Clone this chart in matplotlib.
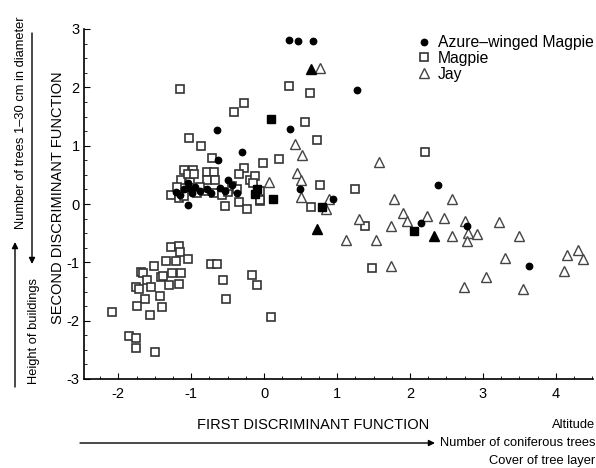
import matplotlib
matplotlib.use("Agg")
import matplotlib.pyplot as plt
from matplotlib.ticker import MultipleLocator

plt.rcParams['font.family'] = ['Liberation Sans', 'DejaVu Sans']

# Azure-winged Magpie (filled circles)
azure_x = [0.34, 0.46, 0.67, -0.65, 0.36, -0.30, -0.63, 0.49, -1.04, 0.94, 1.27, 2.38, 2.15, 2.78, 3.63,
           -1.21, -1.10, -1.03, -0.99, -1.05, -0.78, -0.73, -0.60, -0.49, -0.44, -0.53, -0.37, -1.15, -0.88, -0.95]
azure_y = [2.81, 2.80, 2.80, 1.27, 1.29, 0.90, 0.75, 0.26, -0.02, 0.09, 1.96, 0.32, -0.32, -0.37, -1.06,
           0.20, 0.25, 0.28, 0.19, 0.36, 0.25, 0.19, 0.28, 0.42, 0.33, 0.22, 0.19, 0.15, 0.22, 0.30]

# Magpie (open squares)
magpie_x = [-1.15, 0.34, 0.63, -0.28, -0.41, 0.56, -1.03, -0.87, 0.72, -0.72, -0.01, 0.21, -0.27, -0.34, 0.76,
            -0.53, -0.35, -0.24, -0.05, 0.64, 2.20, 1.25, 1.38, 1.48,
            -1.10, -0.98, -1.14, -1.01, -1.05, -0.96, -0.78, -0.69, -0.78, -0.67, -1.28, -1.17, -1.10, -0.92,
            -0.83, -0.69, -0.58, -0.49, -0.44, -0.37, -0.19, -0.12, -0.15, -0.05, -0.06, -1.20, -0.88,
            -1.28, -1.17, -1.16, -1.34, -1.21, -1.04, -1.51, -1.69, -1.66, -1.26, -1.14, -1.41, -1.38, -1.61,
            -1.30, -1.17, -1.76, -1.72, -1.55, -1.64, -1.43, -1.74, -1.40, -1.56, -2.08, -1.85, -1.76, -1.76,
            -1.50, -0.73, -0.65, -0.56, -0.52, -0.16, -0.10, 0.10]
magpie_y = [1.98, 2.02, 1.91, 1.73, 1.58, 1.40, 1.14, 0.99, 1.10, 0.79, 0.71, 0.77, 0.61, 0.51, 0.33,
            -0.03, 0.04, -0.09, 0.05, -0.05, 0.89, 0.26, -0.37, -1.10,
            0.58, 0.59, 0.42, 0.42, 0.51, 0.51, 0.55, 0.55, 0.42, 0.42, 0.16, 0.11, 0.13, 0.19,
            0.22, 0.19, 0.16, 0.20, 0.31, 0.25, 0.42, 0.48, 0.36, 0.22, 0.07, 0.30, 0.30,
            -0.73, -0.72, -0.83, -0.98, -0.97, -0.94, -1.07, -1.16, -1.19, -1.18, -1.18, -1.25, -1.24, -1.30,
            -1.38, -1.37, -1.42, -1.45, -1.42, -1.62, -1.58, -1.75, -1.76, -1.90, -1.85, -2.26, -2.30, -2.47,
            -2.54, -1.03, -1.03, -1.31, -1.63, -1.22, -1.38, -1.94]

# Jay (open triangles)
jay_x = [0.77, 0.43, 0.52, 0.45, 0.51, 0.07, 0.51, 0.85, 0.89, 1.58, 1.78, 2.57, 1.90, 1.30, 1.12, 1.54,
         1.74, 1.96, 2.24, 2.47, 2.58, 2.76, 2.80, 2.78, 2.92, 3.22, 3.50, 3.31, 3.04, 2.74, 3.55, 1.74,
         4.11, 4.15, 4.30, 4.37]
jay_y = [2.34, 1.03, 0.84, 0.54, 0.42, 0.37, 0.12, -0.08, 0.09, 0.72, 0.09, 0.09, -0.15, -0.25, -0.62, -0.61,
         -0.37, -0.29, -0.21, -0.24, -0.54, -0.29, -0.50, -0.63, -0.51, -0.30, -0.55, -0.93, -1.25, -1.42, -1.46, -1.06,
         -1.15, -0.87, -0.78, -0.95]

# overlapping points drawn as solid markers
solid_sq_x = [0.10, 0.12, -0.10, 0.79, 2.05, -0.12]
solid_sq_y = [1.45, 0.08, 0.25, -0.05, -0.47, 0.18]
solid_tri_x = [0.64, 0.72, 2.33]
solid_tri_y = [2.32, -0.42, -0.55]

xticks = [-2, -1, 0, 1, 2, 3, 4]
yticks = [-3, -2, -1, 0, 1, 2, 3]

W, H = 596, 468
fig = plt.figure(figsize=(W / 100, H / 100), dpi=100)
ax = fig.add_axes([84 / W, 1 - 379 / H, (593 - 84) / W, (379 - 29) / H])

ax.plot(magpie_x, magpie_y, ls='none', marker='s', ms=6.2, mfc='white', mec='#333333', mew=1.2,
        label='Magpie', zorder=2)
ax.plot(jay_x, jay_y, ls='none', marker='^', ms=7, mfc='white', mec='#444444', mew=1.0,
        label='Jay', zorder=2)
ax.plot(azure_x, azure_y, ls='none', marker='o', ms=4.6, mfc='black', mec='black',
        label='Azure–winged Magpie', zorder=3)
ax.plot(solid_sq_x, solid_sq_y, ls='none', marker='s', ms=6.2, mfc='black', mec='black', zorder=3)
ax.plot(solid_tri_x, solid_tri_y, ls='none', marker='^', ms=7, mfc='black', mec='black', zorder=3)

ax.set_xlim(-2.47, 4.51)
ax.set_ylim(-3, 3)
ax.set_xticks(xticks)
ax.set_yticks(yticks)
ax.set_xticklabels([str(v) for v in xticks])
ax.set_yticklabels([str(v) for v in yticks])
ax.xaxis.set_minor_locator(MultipleLocator(0.25))
ax.yaxis.set_minor_locator(MultipleLocator(0.25))
ax.tick_params(which='major', direction='in', length=4, width=0.8, labelsize=10.5)
ax.tick_params(axis='x', which='major', pad=6)
ax.tick_params(axis='y', which='major', pad=3)
ax.tick_params(which='minor', direction='in', length=2, width=0.6)
for s in ['top', 'right']:
    ax.spines[s].set_visible(False)
for s in ['left', 'bottom']:
    ax.spines[s].set_linewidth(1.2)

handles, labels = ax.get_legend_handles_labels()
order = [2, 0, 1]
ax.legend([handles[i] for i in order], [labels[i] for i in order],
          loc='upper left', bbox_to_anchor=((416 - 84) / (593 - 84), (379 - 35) / (379 - 29)),
          bbox_transform=ax.transAxes, frameon=False, borderaxespad=0, borderpad=0,
          handlelength=1.0, handletextpad=0.4, labelspacing=0.05, fontsize=11.3)

def fx(px):
    return px / W

def fy(py):
    return 1 - py / H

fig.text(fx(313), fy(425), 'FIRST DISCRIMINANT FUNCTION', ha='center', va='center', fontsize=10.5)
fig.text(fx(58), fy(198), 'SECOND DISCRIMINANT FUNCTION', ha='center', va='center',
         rotation=90, fontsize=10.5)

fig.text(fx(595), fy(425), 'Altitude', ha='right', va='center', fontsize=9.3)
fig.text(fx(595), fy(443), 'Number of coniferous trees', ha='right', va='center', fontsize=9.3)
fig.text(fx(595), fy(461), 'Cover of tree layer', ha='right', va='center', fontsize=9.3)
fig.add_artist(matplotlib.patches.FancyArrowPatch((fx(80), fy(443)), (fx(435), fy(443)),
               transform=fig.transFigure, arrowstyle='-|>', mutation_scale=9, lw=1.0, color='black',
               shrinkA=0, shrinkB=0))

fig.text(fx(21), fy(123), 'Number of trees 1–30 cm in diameter', ha='center', va='center',
         rotation=90, fontsize=9.3)
fig.add_artist(matplotlib.patches.FancyArrowPatch((fx(32), fy(33)), (fx(32), fy(264)),
               transform=fig.transFigure, arrowstyle='-|>', mutation_scale=9, lw=1.0, color='black',
               shrinkA=0, shrinkB=0))
fig.text(fx(34), fy(331), 'Height of buildings', ha='center', va='center', rotation=90, fontsize=9.3)
fig.add_artist(matplotlib.patches.FancyArrowPatch((fx(15), fy(387)), (fx(15), fy(242)),
               transform=fig.transFigure, arrowstyle='-|>', mutation_scale=9, lw=1.0, color='black',
               shrinkA=0, shrinkB=0))

fig.savefig('out.png', dpi=100)
